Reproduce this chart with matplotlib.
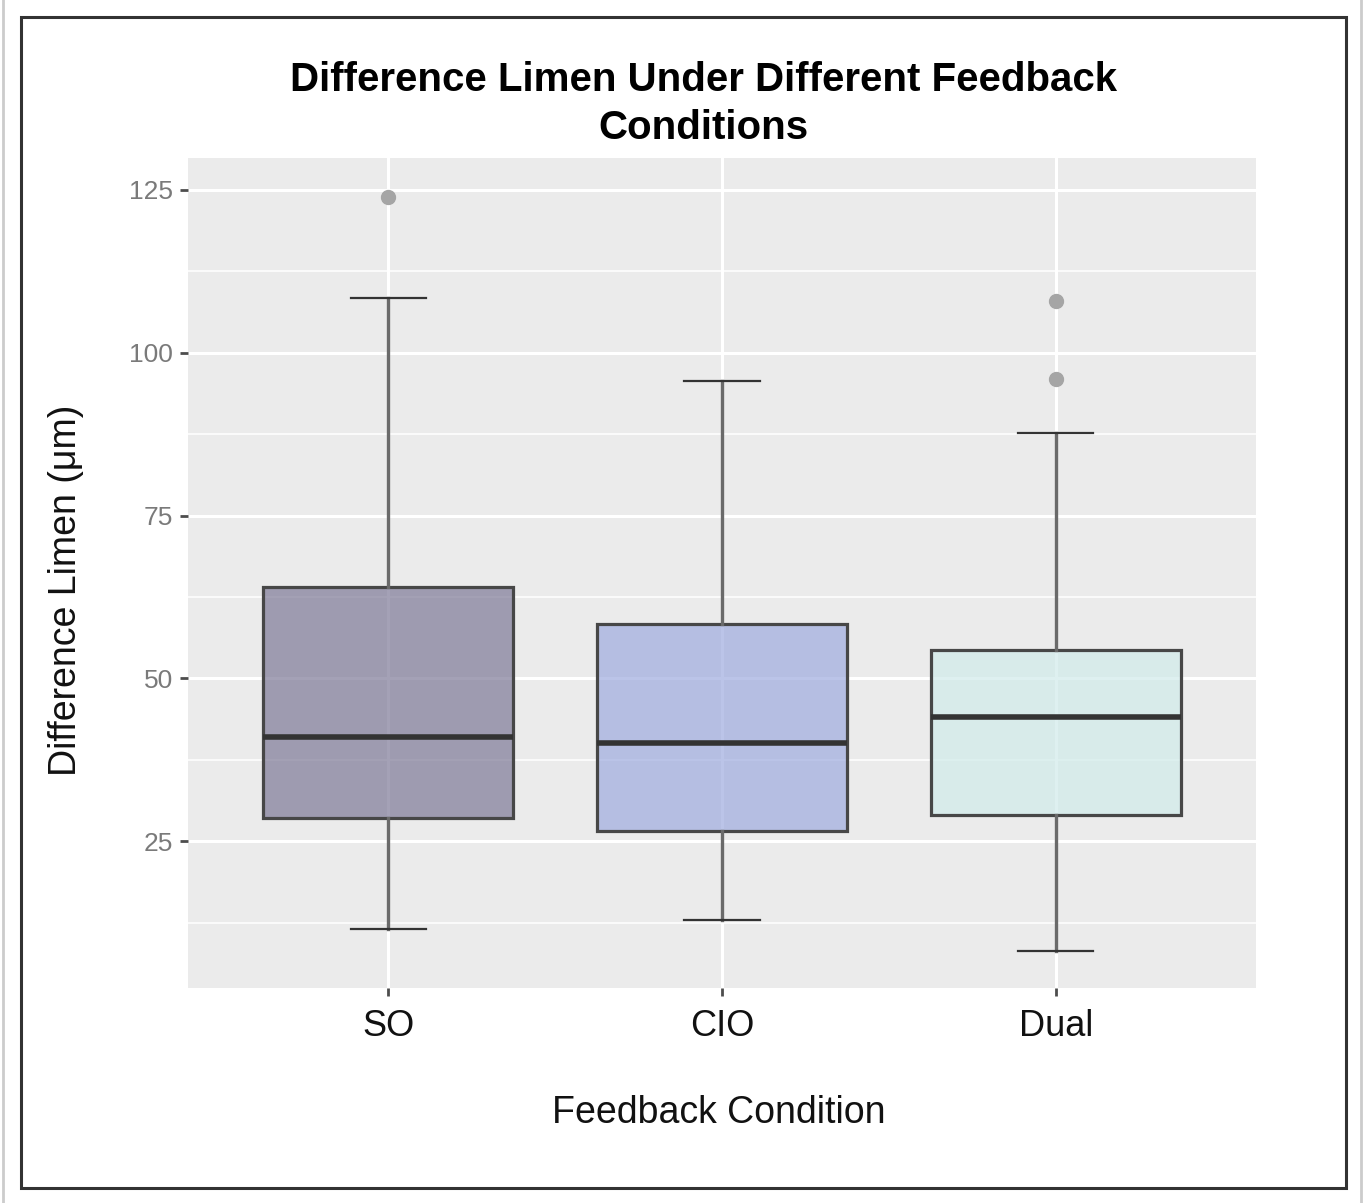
import matplotlib
matplotlib.use("Agg")
import matplotlib.pyplot as plt
from matplotlib.patches import Rectangle
from matplotlib.ticker import MultipleLocator
from matplotlib.colors import to_rgba

plt.rcParams['font.family'] = ['Liberation Sans', 'DejaVu Sans']

categories = ["SO", "CIO", "Dual"]
q1 = [28.5, 26.5, 29.0]
medians = [41.0, 40.0, 44.0]
q3 = [64.0, 58.4, 54.4]
whisker_low = [11.5, 12.9, 8.1]
whisker_high = [108.4, 95.7, 87.7]
outliers = [[123.9], [], [108.0, 95.9]]
fill_colors = ["#7e7a97", "#9facdf", "#d0ebea"]

title = "Difference Limen Under Different Feedback\nConditions"
xlabel = "Feedback Condition"
ylabel = "Difference Limen (\u03bcm)"

fig = plt.figure(figsize=(13.63, 12.03), dpi=100)
ax = fig.add_axes([188/1363, 1-988/1203, (1256-188)/1363, (988-158)/1203])

stats = []
for i, c in enumerate(categories):
    stats.append(dict(label=c, med=medians[i], q1=q1[i], q3=q3[i],
                      whislo=whisker_low[i], whishi=whisker_high[i], fliers=outliers[i]))

positions = list(range(1, len(categories) + 1))
ax.set_facecolor("#ebebeb")
ax.set_axisbelow(True)
res = ax.bxp(stats, positions=positions, widths=0.75, capwidths=0.225, patch_artist=True,
             boxprops=dict(edgecolor="#474747", linewidth=2.3),
             medianprops=dict(color="#333333", linewidth=4.0, solid_capstyle="butt"),
             whiskerprops=dict(color="#6a6a6a", linewidth=2.4),
             capprops=dict(color="#333333", linewidth=1.6),
             flierprops=dict(marker="o", markersize=10, markerfacecolor="#a5a5a5",
                             markeredgecolor="#a5a5a5", linestyle="none"))
for patch, col in zip(res["boxes"], fill_colors):
    patch.set_facecolor(to_rgba(col, 0.7))
for m in res["medians"]:
    m.set_zorder(5)

ax.set_xlim(0.4, 3.6)
ax.set_ylim(2.45, 129.9)
ax.yaxis.set_minor_locator(MultipleLocator(12.5))
ax.set_yticks([25, 50, 75, 100, 125])
ax.set_xticks(positions)
ax.set_xticklabels(categories)
ax.grid(True, which="major", color="white", linewidth=2.2)
ax.grid(True, which="minor", axis="y", color="white", linewidth=1.1)
ax.tick_params(axis="y", which="minor", length=0)
ax.tick_params(axis="both", which="major", length=6, width=2, color="#4d4d4d")
ax.tick_params(axis="y", labelsize=19, labelcolor="#7a7a7a", pad=5)
ax.tick_params(axis="x", labelsize=26, labelcolor="#111111", pad=9)
for s in ax.spines.values():
    s.set_visible(False)

ax.set_xlabel(xlabel, fontsize=27, color="#111111")
ax.set_ylabel(ylabel, fontsize=27, color="#111111")
ax.xaxis.set_label_coords((719-188)/1068, (988-1113)/830)
ax.xaxis.label.set_va("center")
ax.yaxis.set_label_coords((66-188)/1068, (988-590)/830)
ax.yaxis.label.set_va("center")
fig.text(703/1363, 1-104/1203, title, ha="center", va="center", fontsize=29,
         fontweight="bold", linespacing=1.36)

# outer borders
fig.patches.append(Rectangle((21/1363, 1-1188/1203), (1346-21)/1363, (1188-17)/1203,
                             transform=fig.transFigure, fill=False, edgecolor="#333333",
                             linewidth=2.2))
fig.lines.append(plt.Line2D([2.5/1363, 2.5/1363], [0, 1], transform=fig.transFigure,
                            color="#cccccc", linewidth=2))
fig.lines.append(plt.Line2D([1360.5/1363, 1360.5/1363], [0, 1], transform=fig.transFigure,
                            color="#cccccc", linewidth=2))

fig.savefig("out.png", dpi=100)
